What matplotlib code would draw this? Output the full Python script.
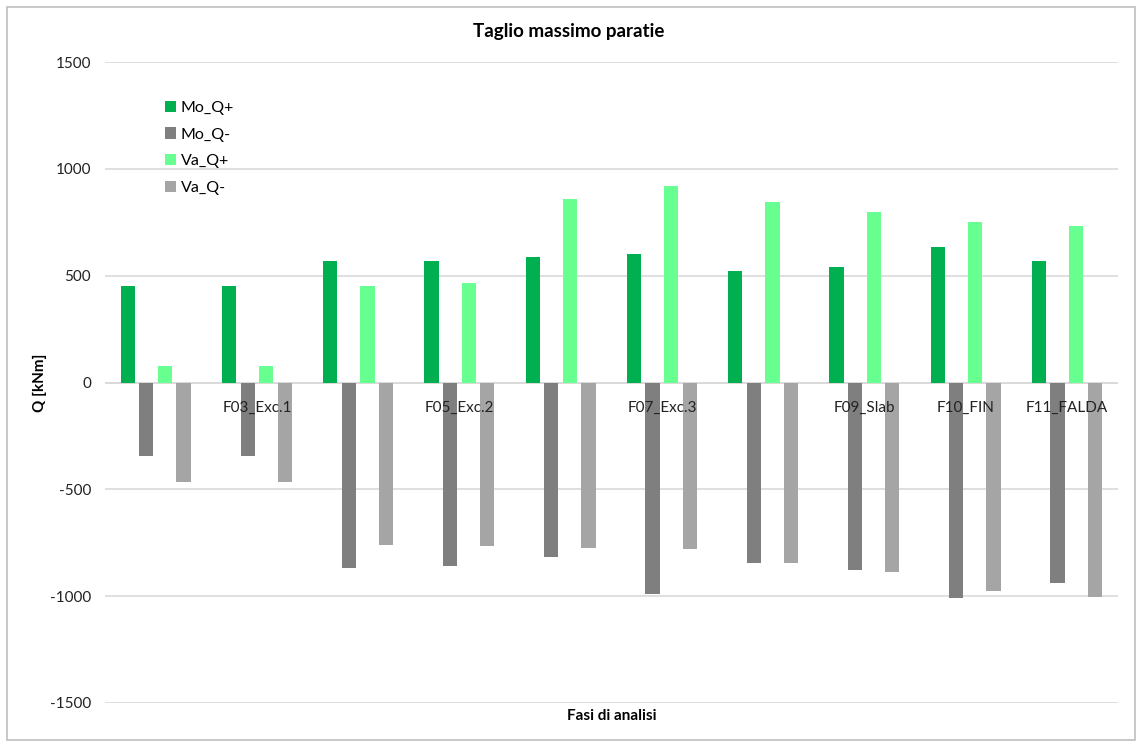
import numpy as np
import matplotlib
matplotlib.use("Agg")
import matplotlib.pyplot as plt
from matplotlib.patches import Rectangle

# dati
fasi = ["", "F03_Exc.1", "", "F05_Exc.2", "", "F07_Exc.3", "", "F09_Slab", "F10_FIN", "F11_FALDA"]
mo_q_pos = [454, 454, 569, 569, 588, 600, 522, 539, 635, 571]
mo_q_neg = [-345, -345, -866, -859, -819, -988, -846, -877, -1008, -937]
va_q_pos = [77, 77, 451, 468, 858, 921, 846, 797, 753, 734]
va_q_neg = [-467, -467, -759, -764, -776, -781, -843, -886, -978, -1005]

serie = ["Mo_Q+", "Mo_Q-", "Va_Q+", "Va_Q-"]
colori = ["#00B050", "#7F7F7F", "#66FF90", "#A5A5A5"]

plt.rcParams['font.family'] = ['Lato', 'DejaVu Sans']
plt.rcParams['axes.unicode_minus'] = False

fig = plt.figure(figsize=(11.38, 7.42), dpi=100)
fig.patches.append(Rectangle((0.006, 0.003), 0.991, 0.988, transform=fig.transFigure,
                             fill=False, edgecolor="#BFBFBF", linewidth=1.2))
ax = fig.add_axes([0.0923, 0.0526, 0.8897, 0.8638])

x = np.arange(len(fasi))
w = 0.14
offs = [-0.275, -0.092, 0.092, 0.275]
for vals, nome, col, o in zip([mo_q_pos, mo_q_neg, va_q_pos, va_q_neg], serie, colori, offs):
    ax.bar(x + o, vals, width=w, color=col, label=nome, zorder=2)

ax.set_xlim(-0.5, len(fasi) - 0.5)
ax.set_ylim(-1500, 1500)
ax.set_yticks(np.arange(-1500, 1501, 500))
ax.tick_params(axis='y', length=0, labelsize=11, pad=10, labelcolor="#222222")
ax.set_xticks([])
for s in ax.spines.values():
    s.set_visible(False)
ax.grid(axis='y', color="#D9D9D9", linewidth=1.2, zorder=0)
ax.axhline(0, color="#D9D9D9", linewidth=1.2, zorder=1)

# etichette categorie vicino all'asse
for xi, lab in zip(x, fasi):
    ax.annotate(lab, xy=(xi, 0), xytext=(0, -18), textcoords='offset points',
                ha='center', va='center', fontsize=11, color="#222222", zorder=5)

ax.set_ylabel("Q [kNm]", fontsize=11, fontweight='bold')
ax.yaxis.set_label_coords(-0.057, 0.5)
ax.set_xlabel("Fasi di analisi", fontsize=11, fontweight='bold', labelpad=4)
fig.text(0.5, 0.957, "Taglio massimo paratie", ha='center', va='center',
         fontsize=13.5, fontweight='bold')

ax.legend(loc='upper left', bbox_to_anchor=(0.045, 0.962), frameon=False, fontsize=11.5,
          handlelength=0.7, handleheight=0.7, handletextpad=0.3, labelspacing=0.78)

fig.savefig("out.png", dpi=100)
